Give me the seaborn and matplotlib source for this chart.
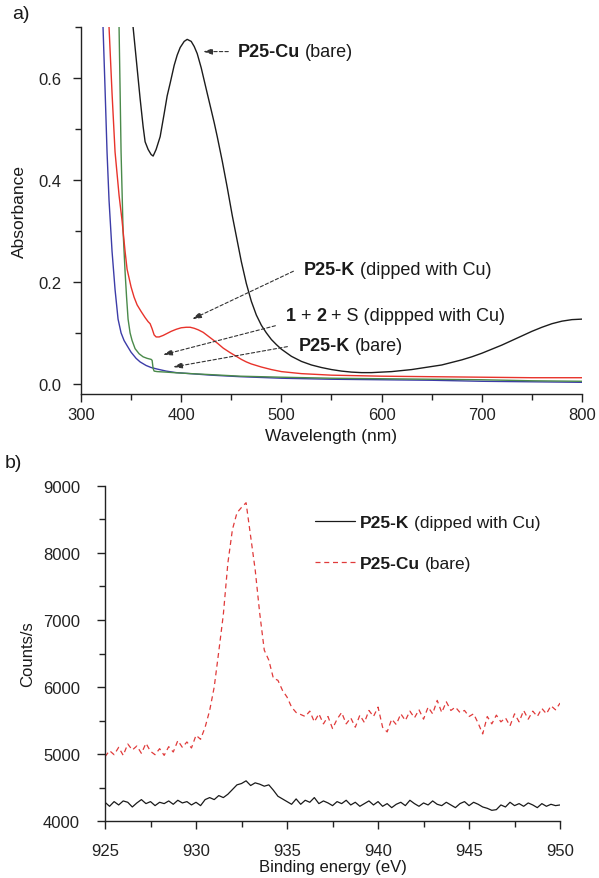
import numpy as np
import pandas as pd
import matplotlib
matplotlib.use('Agg')
import matplotlib.pyplot as plt
from matplotlib.ticker import MultipleLocator
import seaborn as sns

# UV-vis spectra (panel a)
cu_bare_nm = [350, 352, 356, 359, 362, 364, 367, 370, 372, 375, 379, 383, 386, 389, 393, 396, 399,
              403, 406, 410, 413, 416, 420, 423, 426, 430, 433, 436, 441, 446, 451, 456, 460, 465,
              470, 475, 480, 485, 490, 495, 500, 510, 520, 530, 540, 550, 560, 570, 580, 590, 600,
              610, 620, 630, 640, 650, 660, 670, 680, 690, 700, 710, 720, 730, 740, 750, 760, 770,
              780, 790, 800]
cu_bare_abs = [0.80, 0.70, 0.62, 0.56, 0.505, 0.475, 0.46, 0.45, 0.447, 0.46, 0.485, 0.53, 0.565,
               0.59, 0.625, 0.645, 0.660, 0.672, 0.676, 0.672, 0.662, 0.648, 0.62, 0.595, 0.570,
               0.537, 0.512, 0.485, 0.437, 0.385, 0.33, 0.28, 0.24, 0.197, 0.162, 0.135, 0.115,
               0.100, 0.087, 0.077, 0.068, 0.054, 0.044, 0.037, 0.032, 0.028, 0.025, 0.023, 0.022,
               0.022, 0.023, 0.024, 0.026, 0.028, 0.031, 0.034, 0.037, 0.042, 0.047, 0.053, 0.060,
               0.068, 0.076, 0.085, 0.094, 0.103, 0.111, 0.118, 0.123, 0.126, 0.127]

k_dip_nm = [320, 324, 328, 331, 334, 338, 341, 344, 346, 350, 353, 356, 360, 364, 367, 369, 371,
            373, 375, 378, 382, 386, 390, 395, 400, 405, 409, 413, 417, 422, 426, 430, 436, 442,
            449, 455, 460, 465, 470, 480, 490, 500, 520, 550, 600, 650, 700, 750, 800]
k_dip_abs = [0.95, 0.82, 0.70, 0.57, 0.455, 0.37, 0.32, 0.26, 0.225, 0.19, 0.17, 0.155, 0.142,
             0.13, 0.122, 0.118, 0.108, 0.096, 0.092, 0.092, 0.095, 0.099, 0.103, 0.107, 0.110,
             0.111, 0.111, 0.109, 0.106, 0.101, 0.095, 0.089, 0.080, 0.070, 0.061, 0.054, 0.048,
             0.043, 0.039, 0.033, 0.028, 0.024, 0.020, 0.017, 0.015, 0.014, 0.013, 0.012, 0.012]

k_bare_nm = [315, 318, 322, 324, 326, 328, 331, 334, 337, 340, 343, 346, 350, 355, 359, 365, 370,
             376, 385, 395, 409, 430, 459, 500, 550, 600, 650, 700, 750, 800]
k_bare_abs = [0.95, 0.82, 0.70, 0.58, 0.455, 0.36, 0.26, 0.185, 0.127, 0.100, 0.085, 0.075, 0.062,
              0.050, 0.043, 0.036, 0.032, 0.029, 0.025, 0.022, 0.020, 0.017, 0.014, 0.011, 0.009,
              0.008, 0.007, 0.005, 0.004, 0.003]

mix_nm = [334, 336, 338, 339, 340, 342, 344, 345.5, 347, 349, 351, 354, 358, 362, 366, 370, 371,
          372, 373, 376, 385, 392, 410, 430, 459, 500, 550, 600, 650, 700, 750, 800]
mix_abs = [0.95, 0.82, 0.70, 0.58, 0.455, 0.30, 0.22, 0.17, 0.127, 0.10, 0.085, 0.069, 0.059,
           0.053, 0.050, 0.048, 0.046, 0.030, 0.025, 0.024, 0.023, 0.022, 0.020, 0.018, 0.015,
           0.013, 0.011, 0.010, 0.009, 0.008, 0.006, 0.005]

# XPS Cu 2p (panel b), 0.25 eV step from 925 to 950
k_dip_cps = [4280, 4220, 4290, 4240, 4300, 4280, 4210, 4270, 4320, 4260, 4290, 4230, 4280, 4260,
             4300, 4250, 4310, 4270, 4290, 4240, 4280, 4230, 4320, 4350, 4320, 4380, 4350, 4400,
             4470, 4540, 4560, 4600, 4530, 4570, 4550, 4520, 4540, 4460, 4370, 4330, 4290, 4250,
             4330, 4250, 4310, 4280, 4350, 4260, 4300, 4270, 4230, 4290, 4260, 4310, 4240, 4280,
             4220, 4260, 4300, 4240, 4290, 4220, 4260, 4200, 4250, 4280, 4230, 4310, 4260, 4220,
             4270, 4240, 4300, 4250, 4230, 4280, 4240, 4200, 4260, 4290, 4230, 4280, 4250, 4210,
             4190, 4160, 4170, 4240, 4210, 4280, 4230, 4260, 4220, 4270, 4240, 4200, 4260, 4220,
             4250, 4230, 4240]
cu_bare_cps = [4960, 5050, 4990, 5100, 4980, 5150, 5060, 5120, 5010, 5160, 5040, 4990, 5080, 4980,
               5110, 5030, 5200, 5100, 5180, 5090, 5280, 5220, 5400, 5650, 6000, 6530, 7080, 7850,
               8350, 8600, 8680, 8750, 8250, 7750, 7100, 6550, 6400, 6130, 6100, 5950, 5850, 5700,
               5620, 5590, 5560, 5640, 5480, 5600, 5450, 5560, 5380, 5520, 5620, 5450, 5540, 5400,
               5580, 5470, 5650, 5560, 5700, 5400, 5330, 5520, 5440, 5600, 5500, 5640, 5540, 5660,
               5520, 5700, 5600, 5800, 5620, 5780, 5650, 5700, 5620, 5650, 5560, 5600, 5460, 5300,
               5560, 5450, 5580, 5480, 5540, 5420, 5600, 5480, 5650, 5520, 5640, 5560, 5680, 5600,
               5720, 5660, 5760]
energy = np.linspace(925, 950, len(k_dip_cps))

sns.set_style('ticks')
plt.rcParams['font.family'] = ['Liberation Sans', 'DejaVu Sans']
plt.rcParams['font.size'] = 12
plt.rcParams['axes.linewidth'] = 1.0
plt.rcParams['axes.edgecolor'] = '#222222'
plt.rcParams['xtick.color'] = '#222222'
plt.rcParams['ytick.color'] = '#222222'
plt.rcParams['text.color'] = '#1a1a1a'
plt.rcParams['axes.labelcolor'] = '#1a1a1a'

fig = plt.figure(figsize=(5.99, 8.79), dpi=100)
ax1 = fig.add_axes([0.1352, 0.5506, 0.8364, 0.4174])
ax2 = fig.add_axes([0.1753, 0.0648, 0.7597, 0.3812])

TXT = '#1a1a1a'


def multi_label(ax, x, y, parts, size=13):
    # parts: (text, bold); each piece is chained after the previous one with a space gap
    first, bold = parts[0]
    prev = ax.text(x, y, first, fontsize=size, fontweight='bold' if bold else 'normal',
                   ha='left', va='center', color=TXT)
    for txt, bold in parts[1:]:
        prev = ax.annotate(txt, xy=(1, 0), xycoords=prev, xytext=(0.278 * size, 0),
                           textcoords='offset points', ha='left', va='bottom',
                           fontsize=size, fontweight='bold' if bold else 'normal', color=TXT)
    return prev


def dashed_arrow(ax, tail, head):
    ax.annotate('', xy=head, xytext=tail,
                arrowprops=dict(arrowstyle='-|>,head_length=0.45,head_width=0.15',
                                linestyle=(0, (3, 2)), lw=0.8, color='#333333',
                                shrinkA=0, shrinkB=0))


# panel a
sns.lineplot(x=k_bare_nm, y=k_bare_abs, ax=ax1, color='#3c3ca8', lw=1.0)
sns.lineplot(x=mix_nm, y=mix_abs, ax=ax1, color='#4a8a4a', lw=1.0)
sns.lineplot(x=k_dip_nm, y=k_dip_abs, ax=ax1, color='#e8332b', lw=1.0)
sns.lineplot(x=cu_bare_nm, y=cu_bare_abs, ax=ax1, color='#1c1c1c', lw=1.0)

ax1.set_xlim(300, 800)
ax1.set_ylim(-0.02, 0.7)
ax1.xaxis.set_major_locator(MultipleLocator(100))
ax1.xaxis.set_minor_locator(MultipleLocator(50))
ax1.yaxis.set_major_locator(MultipleLocator(0.2))
ax1.yaxis.set_minor_locator(MultipleLocator(0.1))
ax1.set_xlabel('Wavelength (nm)', fontsize=12.5)
ax1.set_ylabel('Absorbance', fontsize=12.5)
ax1.xaxis.set_label_coords(0.5, -0.092)
ax1.yaxis.set_label_coords(-0.108, 0.5)

dashed_arrow(ax1, (447, 0.652), (422, 0.652))
multi_label(ax1, 456, 0.652, [('P25-Cu', True), ('(bare)', False)])
dashed_arrow(ax1, (512, 0.221), (411, 0.127))
multi_label(ax1, 522, 0.225, [('P25-K', True), ('(dipped with Cu)', False)])
dashed_arrow(ax1, (494, 0.114), (382, 0.057))
multi_label(ax1, 504, 0.134, [('1', True), ('+', False), ('2', True), ('+ S (dippped with Cu)', False)])
dashed_arrow(ax1, (506, 0.073), (392, 0.033))
multi_label(ax1, 517, 0.076, [('P25-K', True), ('(bare)', False)])

# panel b
df = pd.DataFrame({'energy': energy, 'k_dip': k_dip_cps, 'cu_bare': cu_bare_cps})
sns.lineplot(data=df, x='energy', y='k_dip', ax=ax2, color='#1a1a1a', lw=0.9, label='P25-K')
sns.lineplot(data=df, x='energy', y='cu_bare', ax=ax2, color='#e03a3a', lw=0.9,
             linestyle=(0, (4, 3)), label='P25-Cu')

ax2.set_xlim(925, 950)
ax2.set_ylim(4000, 9000)
ax2.xaxis.set_major_locator(MultipleLocator(5))
ax2.xaxis.set_minor_locator(MultipleLocator(2.5))
ax2.yaxis.set_major_locator(MultipleLocator(1000))
ax2.yaxis.set_minor_locator(MultipleLocator(500))
ax2.set_xlabel('Binding energy (eV)', fontsize=12)
ax2.set_ylabel('Counts/s', fontsize=12)
ax2.xaxis.set_label_coords(0.5, -0.113)
ax2.yaxis.set_label_coords(-0.154, 0.5)

leg = ax2.legend(loc='upper left', bbox_to_anchor=(0.4615, 0.915), frameon=False,
                 handlelength=2.3, handletextpad=0.3, labelspacing=1.5,
                 borderpad=0, borderaxespad=0, prop={'weight': 'bold', 'size': 12.5})
for t, extra in zip(leg.get_texts(), ['(dipped with Cu)', '(bare)']):
    t.set_color(TXT)
    ax2.annotate(extra, xy=(1, 0), xycoords=t, xytext=(3.5, 0), textcoords='offset points',
                 ha='left', va='bottom', fontsize=12.5, color=TXT, zorder=10)

for ax in (ax1, ax2):
    sns.despine(ax=ax)
    ax.tick_params(which='major', direction='out', length=6, width=1.0, labelsize=12)
    ax.tick_params(which='minor', direction='out', length=4, width=1.0)
ax1.tick_params(axis='y', which='major', pad=8)
ax2.tick_params(axis='y', which='major', pad=12)
ax2.tick_params(axis='x', which='major', pad=10)

fig.text(0.02, 0.983, 'a)', fontsize=14, va='center', ha='left')
fig.text(0.008, 0.473, 'b)', fontsize=14, va='center', ha='left')

fig.savefig('out.png', dpi=100)
